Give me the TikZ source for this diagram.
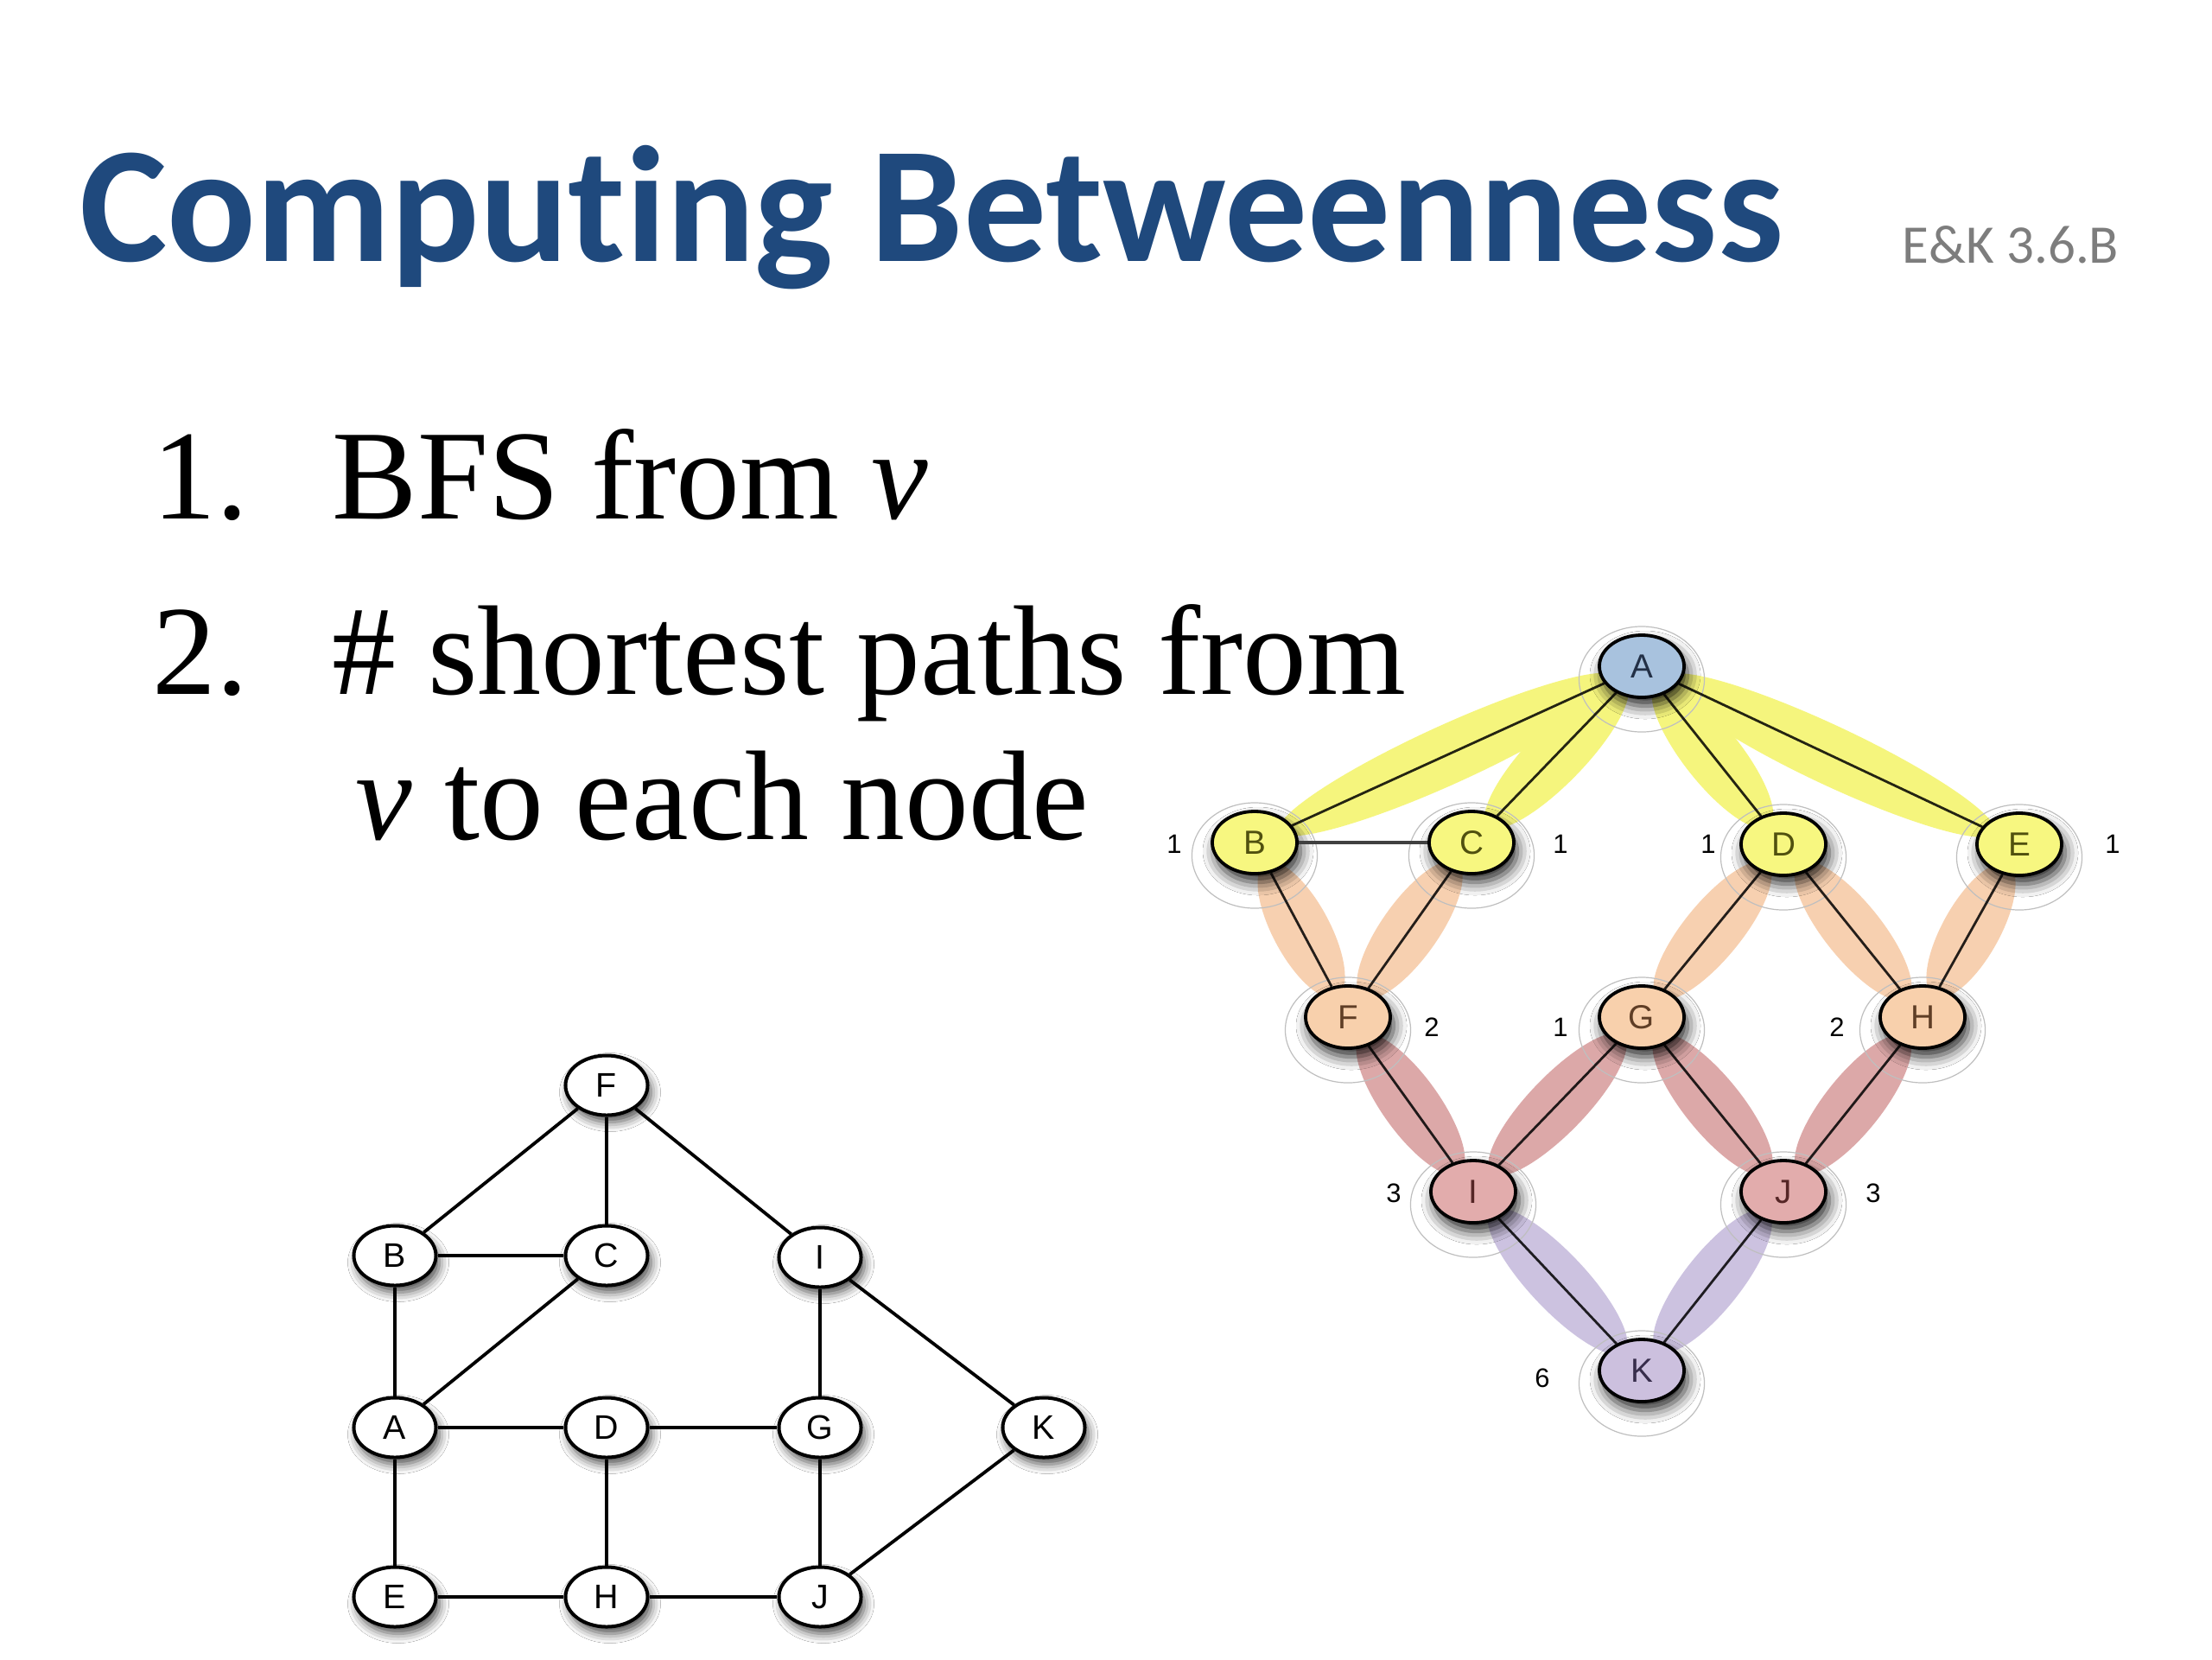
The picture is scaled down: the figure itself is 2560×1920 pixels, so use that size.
\documentclass[tikz,border=0pt]{standalone}
\usepackage{fontspec}
\setmainfont{Liberation Serif}
\newfontfamily\titlefont{Carlito}[Ligatures=NoCommon]
\newfontfamily\labelfont{Liberation Sans}
\usetikzlibrary{calc,shapes.geometric,shadows.blur}
\definecolor{titleblue}{RGB}{31,73,125}
\definecolor{ekgray}{RGB}{125,125,125}
\definecolor{cA}{RGB}{168,194,222}
\definecolor{cY}{RGB}{247,247,128}
\definecolor{cP}{RGB}{248,208,172}
\definecolor{cR}{RGB}{226,172,172}
\definecolor{cK}{RGB}{204,192,222}
\definecolor{bY}{RGB}{245,245,125}
\definecolor{bP}{RGB}{247,208,176}
\definecolor{bR}{RGB}{220,168,168}
\definecolor{bK}{RGB}{204,194,224}
\definecolor{tA}{RGB}{35,48,70}
\definecolor{tY}{RGB}{80,80,15}
\definecolor{tP}{RGB}{95,62,38}
\definecolor{tR}{RGB}{85,38,38}
\definecolor{tK}{RGB}{55,45,75}
\tikzset{
  rnode/.style={ellipse, draw=black, line width=0.038cm, minimum width=0.98cm, minimum height=0.72cm, inner sep=0pt,
    font=\labelfont\fontsize{11}{11}\selectfont,
    blur shadow={shadow xshift=0.04cm, shadow yshift=-0.1cm, shadow blur radius=0.15cm, shadow opacity=85}},
  lnode/.style={ellipse, draw=black, fill=white, line width=0.04cm, minimum width=0.95cm, minimum height=0.69cm, inner sep=0pt,
    font=\labelfont\fontsize{11.2}{11.2}\selectfont,
    blur shadow={shadow xshift=0.04cm, shadow yshift=-0.08cm, shadow blur radius=0.11cm, shadow opacity=70}},
  halo/.style={ellipse, draw=black!25, line width=0.012cm, minimum width=1.45cm, minimum height=1.22cm, inner sep=0pt},
  band/.style={ellipse, midway, sloped, inner sep=0pt, minimum height=0.66cm},
  num/.style={font=\labelfont\fontsize{8.8}{8.8}\selectfont, inner sep=0pt},
  redge/.style={draw=black, draw opacity=0.85, line width=0.028cm},
  ledge/.style={draw=black, line width=0.038cm},
  listtext/.style={anchor=base west, inner sep=0pt, font=\fontsize{42}{48}\selectfont}
}
\begin{document}
\begin{tikzpicture}[x=0.01cm, y=-0.01cm]
\fill[white] (0,0) rectangle (2560,1920);
\useasboundingbox (0,0) rectangle (2560,1920);

% title
\node[anchor=base west, inner sep=0pt, font=\titlefont\bfseries\fontsize{54.4}{60}\selectfont, text=titleblue] (title) at (92,302) {Computing Betweenness};
\node[anchor=base west, inner sep=0pt, font=\titlefont\fontsize{17.9}{20}\selectfont, text=ekgray] (ref) at (2201,304) {E\&K 3.6.B};

% list
\node[listtext] (n1) at (176,600) {1.};
\node[listtext] (t1) at (384,600) {BFS from \textit{v}};
\node[listtext] (n2) at (176,803) {2.};
\node[listtext] (t2) at (384,803) {\# shortest paths from};
\node[listtext] (t3) at (411,971) {\textit{v} to each node};

% right graph positions
\coordinate (pA) at (1900,771);
\coordinate (pB) at (1452,975);
\coordinate (pC) at (1703,975);
\coordinate (pD) at (2064,977);
\coordinate (pE) at (2337,977);
\coordinate (pF) at (1560,1177);
\coordinate (pG) at (1900,1177);
\coordinate (pH) at (2225,1177);
\coordinate (pI) at (1705,1379);
\coordinate (pJ) at (2064,1379);
\coordinate (pK) at (1900,1586);

% bands (border to border)
\path (pA) -- (pB) node[band, fill=bY, minimum width=4.30cm, minimum height=0.68cm] (bAB) {};
\path (pA) -- (pC) node[band, fill=bY, minimum width=2.30cm] (bAC) {};
\path (pA) -- (pD) node[band, fill=bY, minimum width=2.10cm] (bAD) {};
\path (pA) -- (pE) node[band, fill=bY, minimum width=4.20cm, minimum height=0.68cm] (bAE) {};
\path (pB) -- (pF) node[band, fill=bP, minimum width=1.75cm] (bBF) {};
\path (pC) -- (pF) node[band, fill=bP, minimum width=1.90cm] (bCF) {};
\path (pD) -- (pG) node[band, fill=bP, minimum width=2.00cm] (bDG) {};
\path (pD) -- (pH) node[band, fill=bP, minimum width=2.00cm] (bDH) {};
\path (pE) -- (pH) node[band, fill=bP, minimum width=1.75cm] (bEH) {};
\path (pF) -- (pI) node[band, fill=bR, minimum width=1.95cm] (bFI) {};
\path (pG) -- (pI) node[band, fill=bR, minimum width=2.20cm] (bGI) {};
\path (pG) -- (pJ) node[band, fill=bR, minimum width=2.05cm] (bGJ) {};
\path (pH) -- (pJ) node[band, fill=bR, minimum width=2.00cm] (bHJ) {};
\path (pI) -- (pK) node[band, fill=bK, minimum width=2.25cm] (bIK) {};
\path (pJ) -- (pK) node[band, fill=bK, minimum width=2.05cm] (bJK) {};

% halos
\foreach \v in {A,B,C,D,E,F,G,H,I,J,K}{
  \node[halo] (h\v) at ($(p\v)+(0,15)$) {};
}

% right graph nodes
\node[rnode, fill=cA, text=tA] (rA) at (pA) {A};
\node[rnode, fill=cY, text=tY] (rB) at (pB) {B};
\node[rnode, fill=cY, text=tY] (rC) at (pC) {C};
\node[rnode, fill=cY, text=tY] (rD) at (pD) {D};
\node[rnode, fill=cY, text=tY] (rE) at (pE) {E};
\node[rnode, fill=cP, text=tP] (rF) at (pF) {F};
\node[rnode, fill=cP, text=tP] (rG) at (pG) {G};
\node[rnode, fill=cP, text=tP] (rH) at (pH) {H};
\node[rnode, fill=cR, text=tR] (rI) at (pI) {I};
\node[rnode, fill=cR, text=tR] (rJ) at (pJ) {J};
\node[rnode, fill=cK, text=tK] (rK) at (pK) {K};

% right edges
\foreach \a/\b in {A/B,A/C,A/D,A/E,B/F,C/F,D/G,D/H,E/H,F/I,G/I,G/J,H/J,I/K,J/K}{
  \draw[redge] (r\a) -- (r\b);
}
\draw[draw=black!75, line width=0.036cm] (rB) -- (rC);

% numbers
\node[num] (mB) at (1359,977) {1};
\node[num] (mC) at (1806,977) {1};
\node[num] (mD) at (1977,977) {1};
\node[num] (mE) at (2445,977) {1};
\node[num] (mF) at (1657,1189) {2};
\node[num] (mG) at (1806,1189) {1};
\node[num] (mH) at (2126,1189) {2};
\node[num] (mI) at (1613,1381) {3};
\node[num] (mJ) at (2168,1381) {3};
\node[num] (mK) at (1785,1595) {6};

% left graph nodes
\node[lnode] (lF) at (702,1256) {F};
\node[lnode] (lB) at (457,1453) {B};
\node[lnode] (lC) at (702,1453) {C};
\node[lnode] (lI) at (949,1455) {I};
\node[lnode] (lA) at (457,1652) {A};
\node[lnode] (lD) at (702,1652) {D};
\node[lnode] (lG) at (949,1652) {G};
\node[lnode] (lK) at (1208,1652) {K};
\node[lnode] (lE) at (457,1848) {E};
\node[lnode] (lH) at (702,1848) {H};
\node[lnode] (lJ) at (949,1848) {J};

\foreach \a/\b in {F/B,F/C,F/I,B/C,B/A,C/A,I/G,I/K,A/D,A/E,D/G,D/H,G/J,K/J,E/H,H/J}{
  \draw[ledge] (l\a) -- (l\b);
}
\end{tikzpicture}
\end{document}
